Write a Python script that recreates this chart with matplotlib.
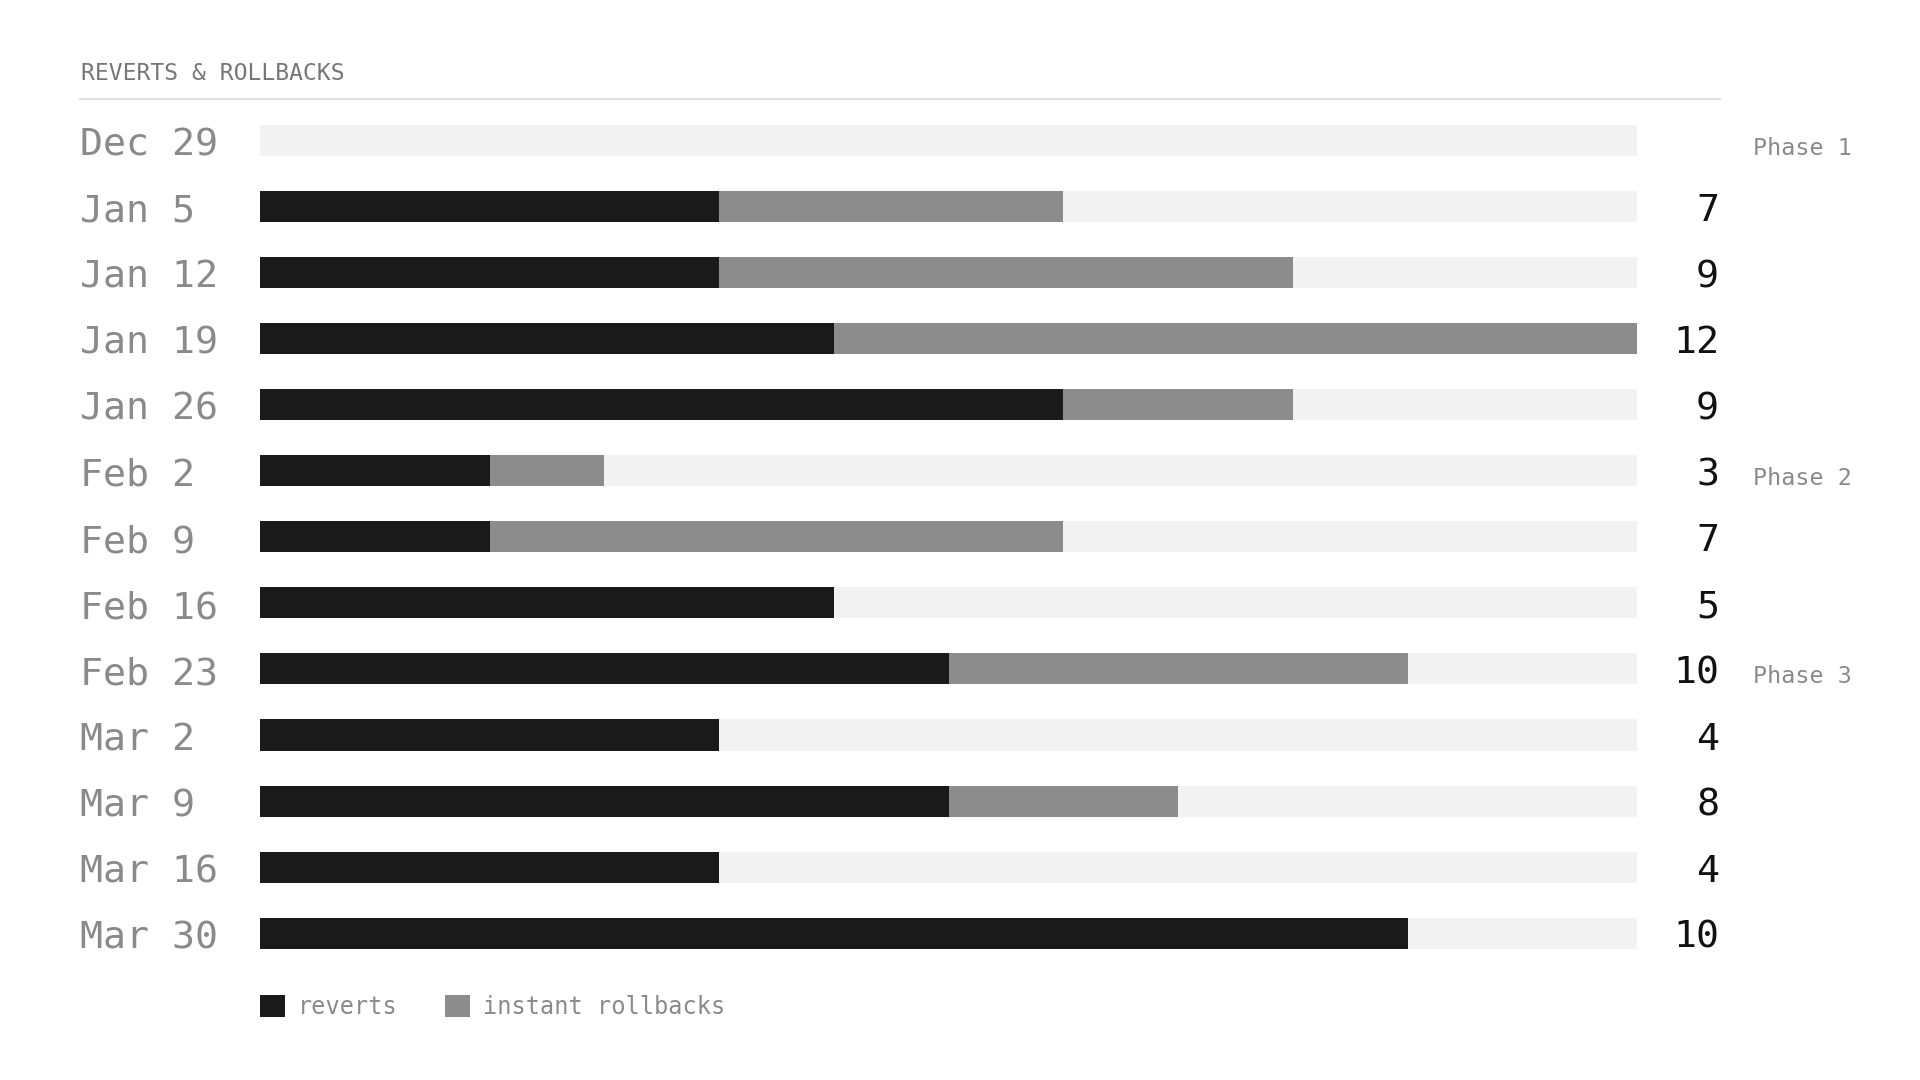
import matplotlib.pyplot as plt
from matplotlib.lines import Line2D
from matplotlib.patches import Patch

# weekly counts
weeks = ["Dec 29", "Jan 5", "Jan 12", "Jan 19", "Jan 26", "Feb 2", "Feb 9",
         "Feb 16", "Feb 23", "Mar 2", "Mar 9", "Mar 16", "Mar 30"]
reverts = [0, 4, 4, 5, 7, 2, 2, 5, 6, 4, 6, 4, 10]
rollbacks = [0, 3, 5, 7, 2, 1, 5, 0, 4, 0, 2, 0, 0]
phases = {"Phase 1": 0, "Phase 2": 5, "Phase 3": 8}

totals = [r + b for r, b in zip(reverts, rollbacks)]
max_total = max(totals)

BLACK = "#1a1a1a"
GREY = "#8c8c8c"
TRACK = "#f2f2f2"
LABEL = "#8a8a8a"
MONO = "DejaVu Sans Mono"

plt.rcParams["font.family"] = MONO

fig = plt.figure(figsize=(19.2, 10.8), dpi=100)
fig.patch.set_facecolor("white")

# plot area in pixels: x 260..1637, rows 140..933
ax = fig.add_axes([260 / 1920, 0.1054, 1377 / 1920, 0.7951])
ax.set_xlim(0, max_total)
ax.set_ylim(len(weeks) - 0.5, -0.5)
ax.axis("off")

y = list(range(len(weeks)))
h = 0.47
ax.barh(y, [max_total] * len(weeks), height=h, color=TRACK, zorder=1)
ax.barh(y, reverts, height=h, color=BLACK, zorder=2, label="reverts")
ax.barh(y, rollbacks, left=reverts, height=h, color=GREY, zorder=2,
        label="instant rollbacks")

tr = ax.get_yaxis_transform()
for i, w in enumerate(weeks):
    ax.text(-0.1305, i + 0.23, w, transform=tr, ha="left", va="baseline",
            fontsize=27.5, color=LABEL)
    if totals[i] > 0:
        ax.text(1.0596, i + 0.22, str(totals[i]), transform=tr, ha="right",
                va="baseline", fontsize=27.5, color="#111111")

for name, row in phases.items():
    ax.text(1.0842, row + 0.22, name, transform=tr, ha="left", va="baseline",
            fontsize=16.8, color=LABEL)

# title and rule
fig.text(81 / 1920, 1 - 73.5 / 1080, "REVERTS & ROLLBACKS", ha="left",
         va="center", fontsize=16.6, color="#777777")
fig.add_artist(Line2D([80 / 1920, 1720 / 1920], [1 - 99 / 1080] * 2,
                      color="#e0e0e0", lw=1.5, transform=fig.transFigure))

handles = [Patch(facecolor=BLACK, label="reverts"),
           Patch(facecolor=GREY, label="instant rollbacks")]
leg = fig.legend(handles=handles, loc="center left",
                 bbox_to_anchor=(260 / 1920, 1 - 1007 / 1080), ncol=2,
                 frameon=False, fontsize=17, handlelength=1.05,
                 handleheight=1.05, handletextpad=0.55, columnspacing=2.0,
                 borderaxespad=0, borderpad=0)
for t in leg.get_texts():
    t.set_color(LABEL)

fig.savefig("out.png", dpi=100, facecolor="white")
